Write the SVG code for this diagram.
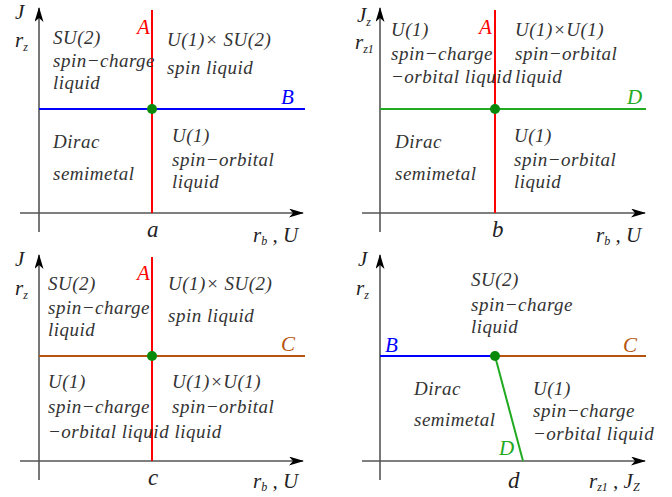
<svg xmlns="http://www.w3.org/2000/svg" width="672" height="497" viewBox="0 0 672 497">
<defs>
<marker id="arr" markerUnits="userSpaceOnUse" markerWidth="16" markerHeight="10" refX="14" refY="4.5" orient="auto">
<path d="M0,0 L15,4.5 L0,9 L4,4.5 Z" fill="#000"/>
</marker>
<style>
.ax{stroke:#555;stroke-width:1.6;fill:none}
.t{font-family:"Liberation Serif",serif;font-style:italic;font-size:19px;fill:#333;letter-spacing:0.5px}
.lb{font-family:"Liberation Serif",serif;font-style:italic;font-size:21px;fill:#222}
.sub{font-size:12px}
.red{stroke:#f00;stroke-width:2;fill:none}
.blue{stroke:#00f;stroke-width:2;fill:none}
.grn{stroke:#22aa22;stroke-width:2;fill:none}
.brn{stroke:#b5540f;stroke-width:2;fill:none}
.dot{fill:#0a8a0a}
</style>
</defs>
<rect width="672" height="497" fill="#fff"/>

<g id="connectors">
<!-- panel a -->
<line class="ax" x1="39" y1="232" x2="39" y2="8" marker-end="url(#arr)"/>
<line class="ax" x1="20" y1="213" x2="303" y2="213" marker-end="url(#arr)"/>
<line class="red" x1="152" y1="10" x2="152" y2="213"/>
<line class="blue" x1="39" y1="109" x2="305" y2="109"/>
<!-- panel b -->
<line class="ax" x1="380" y1="232" x2="380" y2="8" marker-end="url(#arr)"/>
<line class="ax" x1="362" y1="213" x2="645" y2="213" marker-end="url(#arr)"/>
<line class="red" x1="495" y1="10" x2="495" y2="213"/>
<line class="grn" x1="380" y1="109" x2="646" y2="109"/>
<!-- panel c -->
<line class="ax" x1="39" y1="480" x2="39" y2="255" marker-end="url(#arr)"/>
<line class="ax" x1="20" y1="461" x2="303" y2="461" marker-end="url(#arr)"/>
<line class="red" x1="152" y1="257" x2="152" y2="461"/>
<line class="brn" x1="39" y1="356" x2="305" y2="356"/>
<!-- panel d -->
<line class="ax" x1="380" y1="480" x2="380" y2="255" marker-end="url(#arr)"/>
<line class="ax" x1="362" y1="461" x2="645" y2="461" marker-end="url(#arr)"/>
<line class="blue" x1="380" y1="356" x2="495" y2="356"/>
<line class="brn" x1="495" y1="356" x2="646" y2="356"/>
<line class="grn" x1="495" y1="356" x2="523" y2="461"/>
</g>

<g id="panel-a">
<circle class="dot" cx="152" cy="109" r="5"/>
<text class="lb" x="15" y="19">J</text>
<text class="lb" x="15" y="47">r<tspan class="sub" dy="4">z</tspan></text>
<text class="lb" x="137" y="34" style="fill:#f00">A</text>
<text class="lb" x="281" y="104" style="fill:#00f">B</text>
<text class="lb" x="147" y="237" style="font-size:23px">a</text>
<text class="lb" x="253" y="242">r<tspan class="sub" dy="3">b</tspan><tspan dy="-3"> , U</tspan></text>
<text class="t" x="53" y="44">SU(2)</text>
<text class="t" x="53" y="67">spin−charge</text>
<text class="t" x="53" y="89">liquid</text>
<text class="t" x="167" y="46">U(1)× SU(2)</text>
<text class="t" x="167" y="74">spin liquid</text>
<text class="t" x="53" y="148">Dirac</text>
<text class="t" x="53" y="180">semimetal</text>
<text class="t" x="172" y="142">U(1)</text>
<text class="t" x="172" y="166">spin−orbital</text>
<text class="t" x="172" y="188">liquid</text>
</g>

<g id="panel-b">
<circle class="dot" cx="495" cy="109" r="5"/>
<text class="lb" x="357" y="22">J<tspan class="sub" dy="4">z</tspan></text>
<text class="lb" x="355" y="49">r<tspan class="sub" dy="4">z1</tspan></text>
<text class="lb" x="479" y="34" style="fill:#f00">A</text>
<text class="lb" x="627" y="104" style="fill:#22aa22">D</text>
<text class="lb" x="492" y="237" style="font-size:23px">b</text>
<text class="lb" x="596" y="242">r<tspan class="sub" dy="3">b</tspan><tspan dy="-3">  , U</tspan></text>
<text class="t" x="391" y="36">U(1)</text>
<text class="t" x="391" y="60">spin−charge</text>
<text class="t" x="391" y="83">−orbital liquid</text>
<text class="t" x="515" y="36">U(1)×U(1)</text>
<text class="t" x="515" y="60">spin−orbital</text>
<text class="t" x="515" y="83">liquid</text>
<text class="t" x="395" y="148">Dirac</text>
<text class="t" x="395" y="180">semimetal</text>
<text class="t" x="514" y="142">U(1)</text>
<text class="t" x="514" y="166">spin−orbital</text>
<text class="t" x="514" y="188">liquid</text>
</g>

<g id="panel-c">
<circle class="dot" cx="152" cy="356" r="5"/>
<text class="lb" x="15" y="266">J</text>
<text class="lb" x="15" y="295">r<tspan class="sub" dy="4">z</tspan></text>
<text class="lb" x="137" y="280" style="fill:#f00">A</text>
<text class="lb" x="281" y="351" style="fill:#b5540f">C</text>
<text class="lb" x="148" y="485" style="font-size:23px">c</text>
<text class="lb" x="253" y="488">r<tspan class="sub" dy="3">b</tspan><tspan dy="-3"> , U</tspan></text>
<text class="t" x="48" y="290">SU(2)</text>
<text class="t" x="48" y="314">spin−charge</text>
<text class="t" x="48" y="336">liquid</text>
<text class="t" x="168" y="290">U(1)× SU(2)</text>
<text class="t" x="168" y="322">spin liquid</text>
<text class="t" x="48" y="388">U(1)</text>
<text class="t" x="48" y="413">spin−charge</text>
<text class="t" x="48" y="438">−orbital liquid liquid</text>
<text class="t" x="172" y="388">U(1)×U(1)</text>
<text class="t" x="172" y="413">spin−orbital</text>
</g>

<g id="panel-d">
<circle class="dot" cx="495" cy="356" r="5"/>
<text class="lb" x="358" y="266">J</text>
<text class="lb" x="356" y="295">r<tspan class="sub" dy="4">z</tspan></text>
<text class="lb" x="385" y="352" style="fill:#00f">B</text>
<text class="lb" x="623" y="352" style="fill:#b5540f">C</text>
<text class="lb" x="499" y="455" style="fill:#22aa22">D</text>
<text class="lb" x="508" y="488" style="font-size:23px">d</text>
<text class="lb" x="589" y="488">r<tspan class="sub" dy="3">z1</tspan><tspan dy="-3"> , J</tspan><tspan class="sub" dy="3">Z</tspan></text>
<text class="t" x="471" y="286">SU(2)</text>
<text class="t" x="471" y="311">spin−charge</text>
<text class="t" x="471" y="333">liquid</text>
<text class="t" x="414" y="395">Dirac</text>
<text class="t" x="414" y="426">semimetal</text>
<text class="t" x="533" y="395">U(1)</text>
<text class="t" x="533" y="417">spin−charge</text>
<text class="t" x="533" y="440">−orbital liquid</text>
</g>
</svg>
